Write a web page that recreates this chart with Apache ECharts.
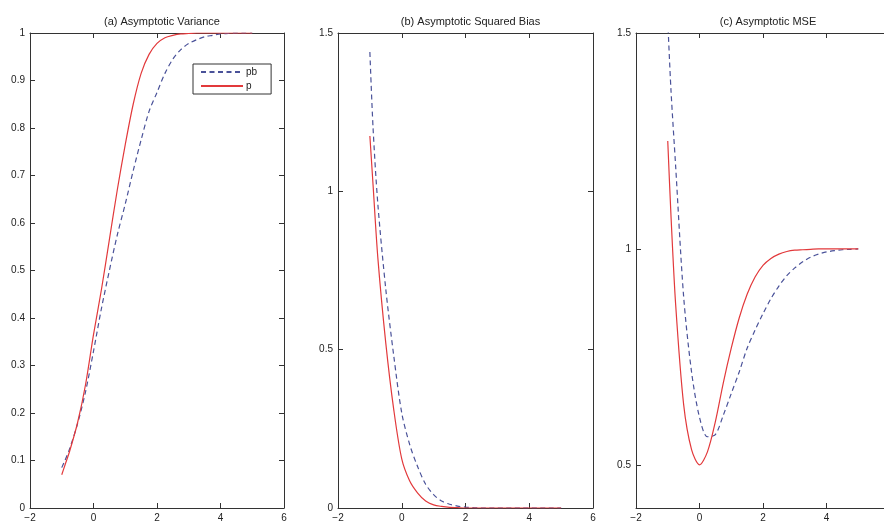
<!DOCTYPE html>
<html>
<head>
<meta charset="utf-8">
<script src="https://cdn.jsdelivr.net/npm/echarts@6/dist/echarts.min.js"></script>
<style>
  html, body { margin: 0; padding: 0; background: #fff; }
  #chart { width: 884px; height: 523px; }
</style>
</head>
<body>
<div id="chart"></div>
<script>
// shared x grid of all curves
const xs = [-1, -0.9, -0.75, -0.5, -0.25, 0, 0.25, 0.5, 0.75, 1, 1.25, 1.5, 1.75, 2, 2.25, 2.5, 2.75, 3, 3.25, 3.5, 3.75, 4, 4.25, 4.5, 4.75, 5];

// (a) asymptotic variance
const varPb = [0.085, 0.1, 0.125, 0.178, 0.245, 0.33, 0.42, 0.5, 0.575, 0.64, 0.71, 0.775, 0.835, 0.875, 0.915, 0.945, 0.965, 0.978, 0.986, 0.992, 0.995, 0.998, 0.999, 1, 1, 1];
const varP = [0.07, 0.09, 0.12, 0.18, 0.26, 0.365, 0.46, 0.565, 0.67, 0.765, 0.85, 0.915, 0.955, 0.978, 0.99, 0.995, 0.998, 0.999, 1, 1, 1, 1, 1, 1, 1, 1];

// (b) asymptotic squared bias
const biasPb = [1.44, 1.2, 0.96, 0.69, 0.48, 0.3, 0.2, 0.13, 0.075, 0.042, 0.022, 0.012, 0.006, 0.003, 0.001, 0, 0, 0, 0, 0, 0, 0, 0, 0, 0, 0];
const biasP = [1.175, 1.02, 0.79, 0.52, 0.31, 0.155, 0.085, 0.047, 0.022, 0.01, 0.005, 0.002, 0.001, 0, 0, 0, 0, 0, 0, 0, 0, 0, 0, 0, 0, 0];

// (c) asymptotic MSE
const msePb = [1.53, 1.37, 1.19, 0.89, 0.715, 0.61, 0.565, 0.57, 0.615, 0.665, 0.715, 0.77, 0.812, 0.85, 0.885, 0.914, 0.938, 0.956, 0.97, 0.981, 0.988, 0.993, 0.996, 0.998, 0.999, 1];
const mseP = [1.25, 1.08, 0.87, 0.64, 0.535, 0.5, 0.53, 0.6, 0.69, 0.77, 0.84, 0.895, 0.935, 0.962, 0.978, 0.988, 0.994, 0.997, 0.998, 0.999, 1, 1, 1, 1, 1, 1];

const titles = ['(a) Asymptotic Variance', '(b) Asymptotic Squared Bias', '(c) Asymptotic MSE'];
const xTicks = [-2, 6, 2];

const blue = '#4a5299';
const red = '#e2393b';
const axisColor = '#333';
const font = '"Liberation Sans", Arial, Helvetica, sans-serif';

const grids = [
  { left: 30, top: 33, width: 254, height: 475, outerBoundsMode: 'none' },
  { left: 338, top: 33, width: 255, height: 475, outerBoundsMode: 'none' },
  { left: 636, top: 33, width: 254, height: 475, outerBoundsMode: 'none' },
];

const pairs = (vals) => xs.map((x, i) => [x, vals[i]]);
const minus = (v) => String(v).replace('-', '\u2212');

function xAxisFor(i, top) {
  return {
    type: 'value',
    gridIndex: i,
    position: top ? 'top' : 'bottom',
    min: xTicks[0],
    max: xTicks[1],
    interval: xTicks[2],
    axisLine: { show: true, onZero: false, lineStyle: { color: axisColor, width: 1 } },
    axisTick: { show: true, inside: true, length: 5, lineStyle: { color: axisColor } },
    axisLabel: { show: !top, color: '#222', fontSize: 10, fontFamily: font, margin: 5, formatter: minus },
    splitLine: { show: false },
  };
}

function yAxisFor(i, right, range) {
  const axis = {
    type: 'value',
    gridIndex: i,
    position: right ? 'right' : 'left',
    min: range.min,
    max: range.max,
    axisLine: { show: true, onZero: false, lineStyle: { color: axisColor, width: 1 } },
    axisTick: { show: true, inside: true, length: 5, lineStyle: { color: axisColor } },
    axisLabel: { show: !right, color: '#222', fontSize: 10, fontFamily: font, margin: 5 },
    splitLine: { show: false },
  };
  if (range.ticks) {
    axis.axisTick.customValues = range.ticks;
    axis.axisLabel.customValues = range.ticks;
  } else {
    axis.interval = range.interval;
  }
  return axis;
}

const yRanges = [
  { min: 0, max: 1, interval: 0.1 },
  { min: 0, max: 1.5, interval: 0.5 },
  { min: 0.4, max: 1.5, ticks: [0.5, 1, 1.5] },
];

const xAxes = [];
const yAxes = [];
grids.forEach((g, i) => {
  xAxes.push(xAxisFor(i, false), xAxisFor(i, true));
  yAxes.push(yAxisFor(i, false, yRanges[i]), yAxisFor(i, true, yRanges[i]));
});

const panelData = [[varPb, varP], [biasPb, biasP], [msePb, mseP]];
const series = [];
panelData.forEach((d, i) => {
  series.push({
    name: 'pb', type: 'line', xAxisIndex: i * 2, yAxisIndex: i * 2,
    data: pairs(d[0]), smooth: 0.3, symbol: 'none', clip: true,
    lineStyle: { color: blue, width: 1.2, type: [5, 3.5] }, itemStyle: { color: blue },
  });
  series.push({
    name: 'p', type: 'line', xAxisIndex: i * 2, yAxisIndex: i * 2,
    data: pairs(d[1]), smooth: 0.3, symbol: 'none', clip: true,
    lineStyle: { color: red, width: 1.2 }, itemStyle: { color: red },
  });
});

const chart = echarts.init(document.getElementById('chart'));
chart.setOption({
  backgroundColor: '#fff',
  animation: false,
  title: titles.map((t, i) => ({
    text: t,
    left: grids[i].left + grids[i].width / 2,
    top: 11,
    textAlign: 'center',
    textStyle: { fontSize: 11, fontWeight: 'normal', color: '#222', fontFamily: font },
  })),
  legend: {
    data: ['pb', 'p'],
    orient: 'vertical',
    left: 193,
    top: 64,
    padding: [3, 14, 3, 7],
    itemGap: 4,
    itemWidth: 42,
    itemHeight: 10,
    selectedMode: false,
    backgroundColor: '#fff',
    borderColor: '#333',
    borderWidth: 1,
    borderRadius: 0,
    itemStyle: { opacity: 0 },
    textStyle: { fontSize: 10, color: '#222', fontFamily: font, padding: [0, 0, 0, -2] },
  },
  grid: grids,
  xAxis: xAxes,
  yAxis: yAxes,
  series: series,
});
</script>
</body>
</html>
